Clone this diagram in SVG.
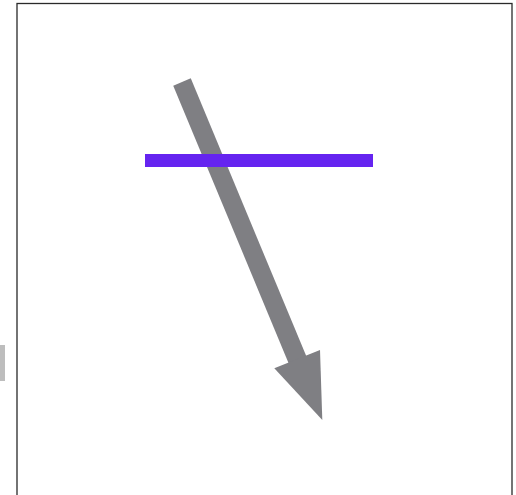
<svg xmlns="http://www.w3.org/2000/svg" width="516" height="495" viewBox="0 0 516 495">
  <style>
    .frame { fill: #ffffff; stroke: #2a2a2a; stroke-width: 1.3; }
    .tab { fill: #bdbdbd; }
    .bar { fill: #6524f0; }
    .shaft { stroke: #7f7f83; stroke-width: 19; fill: none; stroke-linecap: butt; }
    .head { fill: #7f7f83; }
  </style>
  <rect width="516" height="495" fill="#ffffff"/>
  <g id="frame">
    <rect class="frame" x="17" y="3.5" width="495" height="500"/>
  </g>
  <g id="side-tab">
    <rect class="tab" x="0" y="345" width="5" height="36"/>
  </g>
  <g id="connectors">
    <line class="shaft" x1="182" y1="82" x2="298" y2="361"/>
    <polygon class="head" points="274.3,368.3 320,350 322.3,420"/>
  </g>
  <g id="bar">
    <rect class="bar" x="145" y="154" width="228" height="13"/>
  </g>
</svg>
